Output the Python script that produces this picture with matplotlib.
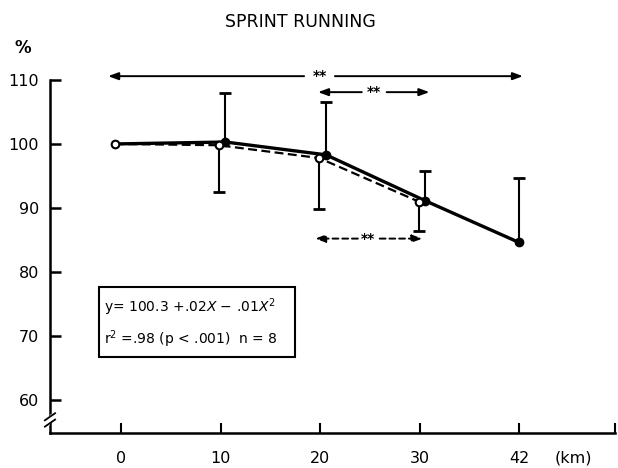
import matplotlib
matplotlib.use("Agg")
import matplotlib.pyplot as plt
from matplotlib.patches import Rectangle
from matplotlib.lines import Line2D

# distance (km) shown as evenly spaced categories
km_labels = ["0", "10", "20", "30", "42"]
km_pos = [0, 1, 2, 3, 4]

# sprint performance, % of initial value
solid_mean = [100.0, 100.3, 98.3, 91.1, 84.6]
solid_upper = [107.9, 106.5, 95.8, 94.6]       # SD tops at 10, 20, 30, 42 km
dashed_mean = [100.0, 99.8, 97.8, 91.0]
dashed_lower = [92.5, 89.8, 86.4]              # SD bottoms at 10, 20, 30 km

y_ticks = [60, 70, 80, 90, 100, 110]

eq_line1 = r"y= 100.3 +.02$\mathit{X}$ $-$ .01$\mathit{X}^2$"
eq_line2 = r"r$^2$ =.98 (p < .001)  n = 8"

# small horizontal nudges so the two curves don't hide each other
solid_shift = [-0.06, 0.05, 0.06, 0.06, 0.0]
dashed_shift = [-0.06, -0.02, -0.01, -0.01]

plt.rcParams["font.family"] = "DejaVu Sans"

fig = plt.figure(figsize=(6.18, 4.68), dpi=100)
ax = fig.add_axes([50 / 618, 35 / 468, 565 / 618, 353 / 468])

xs = [p + s for p, s in zip(km_pos, solid_shift)]
xd = [p + s for p, s in zip(km_pos[:4], dashed_shift)]

ax.plot(xd, dashed_mean, color="black", lw=1.6, ls=(0, (4, 2)), zorder=3)
ax.plot(xs, solid_mean, color="black", lw=2.4, zorder=4)

# one-sided SD bars
ax.vlines(xs[1:], solid_mean[1:], solid_upper, color="black", lw=1.5, zorder=2)
ax.plot(xs[1:], solid_upper, ls="none", marker="_", ms=9, mew=2, color="black")
ax.vlines(xd[1:], dashed_lower, dashed_mean[1:], color="black", lw=1.5, zorder=2)
ax.plot(xd[1:], dashed_lower, ls="none", marker="_", ms=9, mew=2, color="black")

ax.plot(xs[1:], solid_mean[1:], ls="none", marker="o", ms=6, color="black", zorder=5)
ax.plot(xd, dashed_mean, ls="none", marker="o", ms=5.5, mfc="white",
        mec="black", mew=1.5, zorder=6)

# significance arrows
def sig_arrow(x0, x1, gap0, gap1, xt, y, ls="-"):
    props = dict(arrowstyle="-|>,head_length=0.6,head_width=0.22", color="black",
                 lw=1.4, ls=ls, shrinkA=0, shrinkB=0)
    ax.annotate("", xy=(x0, y), xytext=(gap0, y), arrowprops=props, annotation_clip=False)
    ax.annotate("", xy=(x1, y), xytext=(gap1, y), arrowprops=props, annotation_clip=False)
    ax.text(xt, y, "**", ha="center", va="center", fontsize=10, fontweight="bold",
            clip_on=False)

sig_arrow(-0.13, 4.04, 1.84, 2.15, 2.0, 110.6)
sig_arrow(1.98, 3.10, 2.42, 2.67, 2.54, 108.1)
sig_arrow(1.95, 3.03, 2.38, 2.60, 2.48, 85.2, ls=(0, (3, 2)))

# regression box
ax.add_patch(Rectangle((-0.22, 66.7), 1.97, 10.95, fill=False, lw=1.5,
                       edgecolor="black", zorder=2))
ax.text(-0.17, 74.4, eq_line1, ha="left", va="center", fontsize=10)
ax.text(-0.17, 69.5, eq_line2, ha="left", va="center", fontsize=10)

ax.set_xlim(-0.714, 4.965)
ax.set_ylim(54.8, 110)
ax.set_yticks(y_ticks)
ax.set_xticks(km_pos + [4.965])
ax.set_xticklabels(km_labels + [""])

for side in ["top", "right"]:
    ax.spines[side].set_visible(False)
for side in ["left", "bottom"]:
    ax.spines[side].set_linewidth(1.8)

ax.tick_params(axis="y", direction="in", length=8, width=1.8, pad=8, labelsize=11.5)
ax.tick_params(axis="x", direction="in", length=7, width=1.5, pad=13, labelsize=11.5)
for lbl in ax.get_xticklabels() + ax.get_yticklabels():
    lbl.set_fontweight("medium")

# axis break on the y axis
ax.add_line(Line2D([-0.003, 0.003], [0.028, 0.046], transform=ax.transAxes,
                   color="white", lw=3, clip_on=False, zorder=10))
for y0 in (0.018, 0.036):
    ax.add_line(Line2D([-0.009, 0.009], [y0, y0 + 0.02], transform=ax.transAxes,
                       color="black", lw=1.3, clip_on=False, zorder=11))

fig.text(23 / 618, 1 - 48 / 468, "%", ha="center", va="center", fontsize=12,
         fontweight="bold")
fig.text(573 / 618, 1 - 458 / 468, "(km)", ha="center", va="center", fontsize=11.5)
fig.text(300 / 618, 1 - 22 / 468, "SPRINT RUNNING", ha="center", va="center",
         fontsize=12.5)

fig.savefig("out.png", dpi=100)
